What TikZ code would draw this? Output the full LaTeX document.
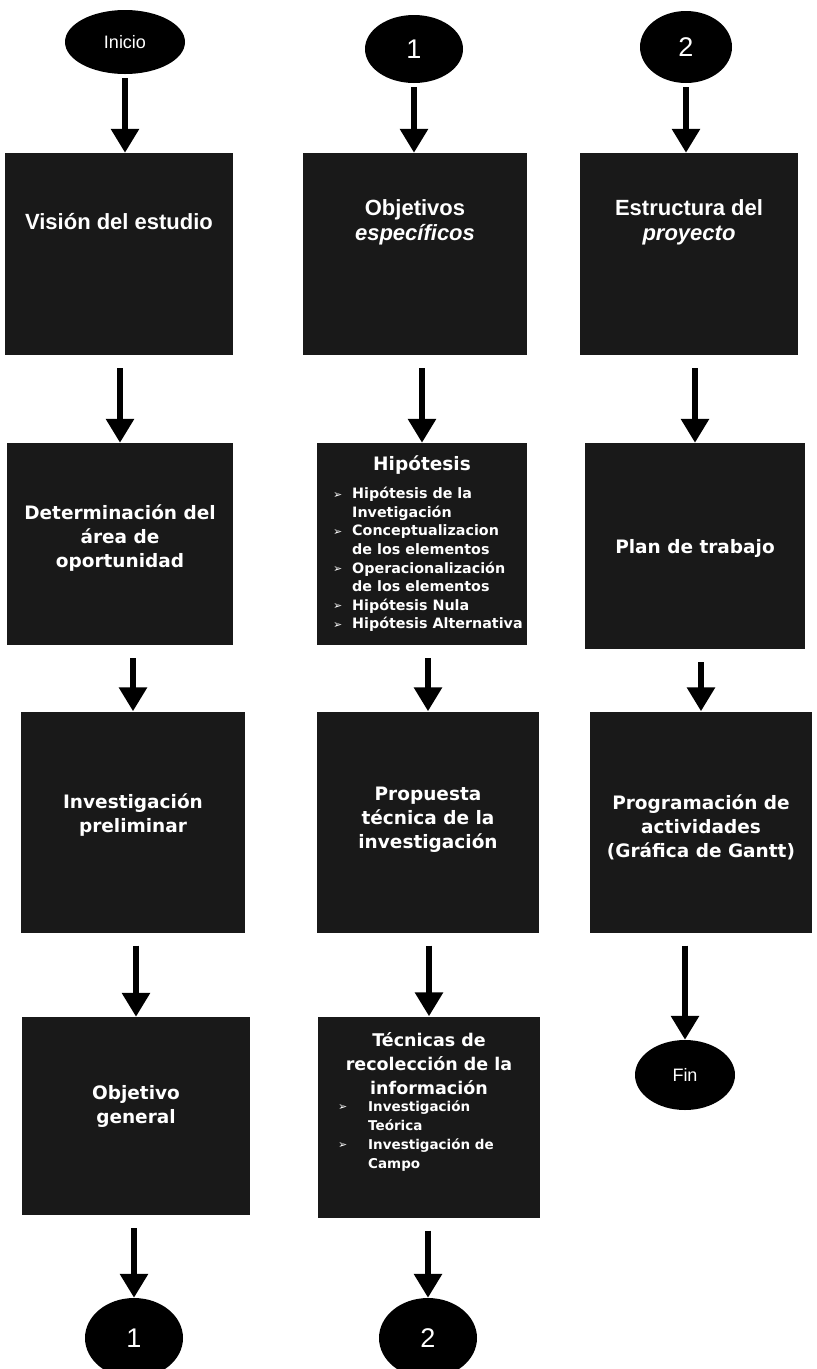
\documentclass[tikz,border=0pt]{standalone}
\usepackage{fontspec}
\setmainfont{Liberation Sans}
\newfontfamily\verdfont{DejaVu Sans}
\usetikzlibrary{arrows.meta,shapes.geometric}

\newcommand{\vin}[1]{\makebox[#1][l]{\raisebox{0.5pt}{\fontsize{11}{11}\selectfont ➢}}}

\tikzset{
    caja/.style={rectangle,fill=black!90,minimum width=224pt,minimum height=202pt,inner sep=0pt},
    ovalo/.style={ellipse,fill=black,text=white,inner sep=0pt},
    tituA/.style={text=white,align=center,font=\bfseries\fontsize{22}{25}\selectfont},
    tituB/.style={text=white,align=center,font=\verdfont\bfseries\fontsize{18.5}{24}\selectfont},
    lista/.style={text=white,align=left,inner sep=0pt,font=\verdfont\bfseries\fontsize{14.3}{18.6}\selectfont},
    flecha/.style={line width=6pt,-{Triangle[width=27pt,length=24pt]}}
}

\begin{document}
\begin{tikzpicture}[x=1pt,y=-1pt]
    \useasboundingbox (0,0) rectangle (817,1369);
    % primera columna
    \node[ovalo,minimum width=120pt,minimum height=64pt,font=\fontsize{18}{18}\selectfont] (inicio) at (125,42) {Inicio};
    \node[caja,minimum width=228pt] (vision) at (119,254) {};
    \node[tituA] (vision-t) at (119,222) {Visión del estudio};
    \node[caja,minimum width=226pt] (deter) at (120,544) {};
    \node[tituB] (deter-t) at (120,538) {Determinación del\\área de\\oportunidad};
    \node[caja,minimum height=221pt] (invpre) at (133,822) {};
    \node[tituB] (invpre-t) at (133,815) {Investigación\\preliminar};
    \node[caja,minimum width=228pt,minimum height=198pt] (objgen) at (136,1116) {};
    \node[tituB] (objgen-t) at (136,1106) {Objetivo\\general};
    \node[ovalo,minimum width=98pt,minimum height=80pt,font=\fontsize{27}{27}\selectfont] (uno-b) at (134,1338) {1};
    % segunda columna
    \node[ovalo,minimum width=98pt,minimum height=68pt,font=\fontsize{27}{27}\selectfont] (uno) at (414,49) {1};
    \node[caja] (objesp) at (415,254) {};
    \node[tituA] (objesp-t) at (415,222) {Objetivos\\\textit{específicos}};
    \node[caja,minimum width=210pt] (hipo) at (422,544) {};
    \node[tituB] (hipo-t) at (422,465) {Hipótesis};
    \node[lista,anchor=north west] (hipo-l) at (333,487) {%
        \vin{19pt}Hipótesis de la\\
        \hspace*{19pt}Invetigación\\
        \vin{19pt}Conceptualizacion\\
        \hspace*{19pt}de los elementos\\
        \vin{19pt}Operacionalización\\
        \hspace*{19pt}de los elementos\\
        \vin{19pt}Hipótesis Nula\\
        \vin{19pt}Hipótesis Alternativa};
    \node[caja,minimum width=222pt,minimum height=221pt] (propu) at (428,822) {};
    \node[tituB] (propu-t) at (428,820) {Propuesta\\técnica de la\\investigación};
    \node[caja,minimum width=222pt,minimum height=201pt] (tecni) at (429,1117) {};
    \node[tituB,font=\verdfont\bfseries\fontsize{17.5}{24}\selectfont] (tecni-t) at (429,1064) {Técnicas de\\recolección de la\\información};
    \node[lista,anchor=north west,font=\verdfont\bfseries\fontsize{13.5}{19}\selectfont] (tecni-l) at (338,1100) {%
        \vin{30pt}Investigación\\
        \hspace*{30pt}Teórica\\
        \vin{30pt}Investigación de\\
        \hspace*{30pt}Campo};
    \node[ovalo,minimum width=98pt,minimum height=80pt,font=\fontsize{27}{27}\selectfont] (dos-b) at (428,1338) {2};
    % tercera columna
    \node[ovalo,minimum width=92pt,minimum height=72pt,font=\fontsize{27}{27}\selectfont] (dos) at (686,47) {2};
    \node[caja,minimum width=218pt] (estru) at (689,254) {};
    \node[tituA] (estru-t) at (689,222) {Estructura del\\\textit{proyecto}};
    \node[caja,minimum width=220pt,minimum height=206pt] (plan) at (695,546) {};
    \node[tituB] (plan-t) at (695,548) {Plan de trabajo};
    \node[caja,minimum width=222pt,minimum height=221pt] (progr) at (701,822) {};
    \node[tituB] (progr-t) at (701,827) {Programación de\\actividades\\(Gráfica de Gantt)};
    \node[ovalo,minimum width=100pt,minimum height=70pt,font=\fontsize{18}{18}\selectfont] (fin) at (685,1075) {Fin};

    % flechas
    \draw[flecha,shorten <=4pt] (inicio.south) -- (inicio.south |- vision.north);
    \draw[flecha,shorten <=13pt] (vision.south -| deter.north) -- (deter.north);
    \draw[flecha,shorten <=13pt] (deter.south -| invpre.north) -- (invpre.north);
    \draw[flecha,shorten <=13pt] (invpre.south -| objgen.north) -- (objgen.north);
    \draw[flecha,shorten <=13pt] (objgen.south -| uno-b.north) -- (uno-b.north);
    \draw[flecha,shorten <=4pt] (uno.south) -- (uno.south |- objesp.north);
    \draw[flecha,shorten <=13pt] (objesp.south -| hipo.north) -- (hipo.north);
    \draw[flecha,shorten <=13pt] (hipo.south -| propu.north) -- (propu.north);
    \draw[flecha,shorten <=13pt] (propu.south -| tecni.north) -- (tecni.north);
    \draw[flecha,shorten <=13pt] (tecni.south -| dos-b.north) -- (dos-b.north);
    \draw[flecha,shorten <=4pt] (dos.south) -- (dos.south |- estru.north);
    \draw[flecha,shorten <=13pt] (estru.south -| plan.north) -- (plan.north);
    \draw[flecha,shorten <=13pt] (plan.south -| progr.north) -- (progr.north);
    \draw[flecha,shorten <=13pt] (progr.south -| fin.north) -- (fin.north);
\end{tikzpicture}
\end{document}
